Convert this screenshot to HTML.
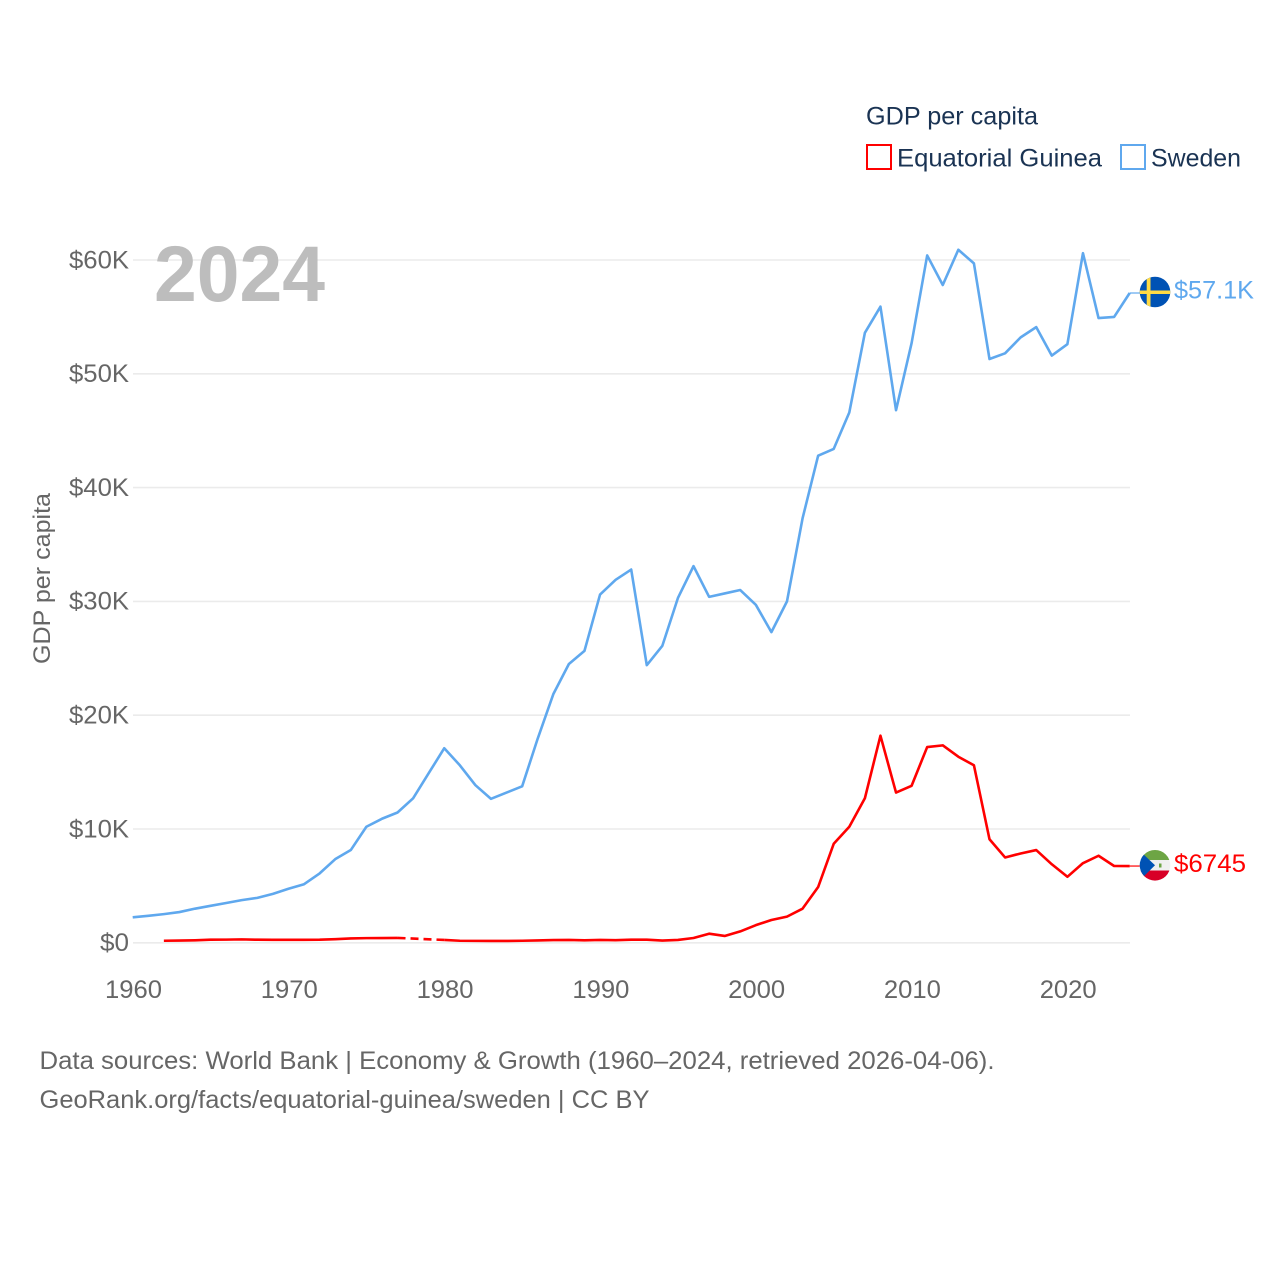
<!DOCTYPE html>
<html lang="en">
<head>
<meta charset="utf-8">
<title>GDP per capita: Equatorial Guinea and Sweden</title>
<style>
html,body{margin:0;padding:0;background:#fff;}
svg{display:block;font-family:"Liberation Sans",sans-serif;}
</style>
</head>
<body>
<svg id="chart" width="1280" height="1280" viewBox="0 0 1280 1280" xmlns="http://www.w3.org/2000/svg">
  <defs>
    <clipPath id="clip-se"><circle cx="1155" cy="292" r="15.3"/></clipPath>
    <clipPath id="clip-gq"><circle cx="1155" cy="865.3" r="15.3"/></clipPath>
  </defs>
  <g id="grid"></g>
  <text x="154" y="301" font-size="79" font-weight="700" fill="#bdbdbd" textLength="171" lengthAdjust="spacingAndGlyphs">2024</text>
  <g id="yticks"></g>
  <g id="xticks"></g>
  <text transform="translate(50,578.5) rotate(-90)" text-anchor="middle" font-size="24" fill="#666666" textLength="171" lengthAdjust="spacingAndGlyphs">GDP per capita</text>
  <g id="series"></g>

  <g clip-path="url(#clip-se)">
    <rect x="1139" y="276" width="32" height="32" fill="#0052b4"/>
    <rect x="1146.7" y="276" width="3.8" height="32" fill="#ffda44"/>
    <rect x="1139" y="290.5" width="32" height="3.5" fill="#ffda44"/>
  </g>
  <g clip-path="url(#clip-gq)">
    <rect x="1139" y="849" width="32" height="11" fill="#6da544"/>
    <rect x="1139" y="860" width="32" height="10.5" fill="#f0f0f0"/>
    <rect x="1139" y="870.5" width="32" height="11" fill="#d80027"/>
    <polygon points="1139,850 1155,865.3 1139,881" fill="#0052b4"/>
    <rect x="1159" y="863.5" width="2.5" height="4" fill="#6da544"/>
  </g>
  <text x="1174" y="298.5" font-size="25" fill="#5fa8ee" textLength="80" lengthAdjust="spacingAndGlyphs">$57.1K</text>
  <text x="1174" y="872" font-size="25" fill="#ff0000" textLength="72" lengthAdjust="spacingAndGlyphs">$6745</text>

  <g>
    <text x="866" y="124.5" font-size="25" fill="#1a3353" textLength="172" lengthAdjust="spacingAndGlyphs">GDP per capita</text>
    <g>
      <rect x="867" y="145" width="24" height="24" fill="none" stroke="#ff0000" stroke-width="2"/>
      <text x="897" y="166.5" font-size="25" fill="#1a3353" textLength="205" lengthAdjust="spacingAndGlyphs">Equatorial Guinea</text>
    </g>
    <g>
      <rect x="1121" y="145" width="24" height="24" fill="none" stroke="#5fa8ee" stroke-width="2"/>
      <text x="1151" y="166.5" font-size="25" fill="#1a3353" textLength="90" lengthAdjust="spacingAndGlyphs">Sweden</text>
    </g>
  </g>

  <text x="39.5" y="1069" font-size="25" fill="#666666" textLength="955" lengthAdjust="spacingAndGlyphs">Data sources: World Bank | Economy &amp; Growth (1960–2024, retrieved 2026-04-06).</text>
  <text x="39.5" y="1108" font-size="25" fill="#666666" textLength="610" lengthAdjust="spacingAndGlyphs">GeoRank.org/facts/equatorial-guinea/sweden | CC BY</text>
</svg>
<script>
// Years run 1960–2024; values are GDP per capita in thousands of US dollars.
const startYear = 1960;
const yTickValues = [0, 10, 20, 30, 40, 50, 60];
const yTickLabels = ['$0', '$10K', '$20K', '$30K', '$40K', '$50K', '$60K'];
const xTickValues = [1960, 1970, 1980, 1990, 2000, 2010, 2020];
const xTickLabels = ['1960', '1970', '1980', '1990', '2000', '2010', '2020'];
const swedenValues = [
  2.24, 2.37, 2.52, 2.7, 3.0, 3.25, 3.5, 3.75, 3.95, 4.3,
  4.75, 5.15, 6.1, 7.35, 8.15, 10.2, 10.9, 11.45, 12.7, 14.9,
  17.1, 15.6, 13.85, 12.65, 13.2, 13.75, 17.95, 21.85, 24.5, 25.65,
  30.6, 31.9, 32.8, 24.4, 26.1, 30.3, 33.1, 30.4, 30.7, 31.0,
  29.7, 27.3, 30.0, 37.3, 42.8, 43.4, 46.6, 53.6, 55.9, 46.8,
  52.7, 60.4, 57.8, 60.9, 59.7, 51.3, 51.8, 53.2, 54.1, 51.6,
  52.6, 60.6, 54.9, 55.0, 57.1
];
const guineaValues = [
  null, null, 0.18, 0.2, 0.22, 0.27, 0.28, 0.3, 0.27, 0.26,
  0.26, 0.26, 0.27, 0.32, 0.38, 0.41, 0.42, 0.43, null, null,
  0.25, 0.18, 0.17, 0.16, 0.16, 0.18, 0.21, 0.24, 0.25, 0.22,
  0.25, 0.23, 0.27, 0.27, 0.2, 0.25, 0.42, 0.8, 0.6, 1.0,
  1.55, 2.0, 2.3, 3.0, 4.9, 8.7, 10.2, 12.7, 18.2, 13.2,
  13.8, 17.2, 17.35, 16.35, 15.6, 9.1, 7.5, 7.85, 8.15, 6.9,
  5.8, 7.0, 7.65, 6.75, 6.745
];

const NS = 'http://www.w3.org/2000/svg';
const xOf = function (year) { return 132.7 + (year - 1960) * (997 / 64); };
const yOf = function (v) { return 942.8 - v * (682.8 / 60); };
const gridG = document.getElementById('grid');
const yG = document.getElementById('yticks');
const xG = document.getElementById('xticks');
const seriesG = document.getElementById('series');

yTickValues.forEach(function (v, i) {
  const line = document.createElementNS(NS, 'line');
  line.setAttribute('x1', 133);
  line.setAttribute('x2', 1130);
  line.setAttribute('y1', yOf(v));
  line.setAttribute('y2', yOf(v));
  line.setAttribute('stroke', '#ebebeb');
  line.setAttribute('stroke-width', 1.6);
  
  
  gridG.appendChild(line);

  const t = document.createElementNS(NS, 'text');
  t.textContent = yTickLabels[i];
  t.setAttribute('x', 129);
  t.setAttribute('y', yOf(v) + 8.3);
  t.setAttribute('text-anchor', 'end');
  t.setAttribute('font-size', 25);
  t.setAttribute('fill', '#666666');
  t.setAttribute('textLength', yTickLabels[i].length === 2 ? 29 : 60);
  t.setAttribute('lengthAdjust', 'spacingAndGlyphs');
  
  
  yG.appendChild(t);
});

xTickValues.forEach(function (year, i) {
  const t = document.createElementNS(NS, 'text');
  t.textContent = xTickLabels[i];
  t.setAttribute('x', xOf(year) + 0.8);
  t.setAttribute('y', 998);
  t.setAttribute('text-anchor', 'middle');
  t.setAttribute('font-size', 25);
  t.setAttribute('fill', '#666666');
  t.setAttribute('textLength', 57);
  t.setAttribute('lengthAdjust', 'spacingAndGlyphs');
  
  
  xG.appendChild(t);
});

function drawSeries(values, color, name) {
  const points = [];
  values.forEach(function (v, i) {
    if (v !== null) { points.push([xOf(startYear + i), yOf(v), i]); }
  });
  let solid = '';
  let dashed = '';
  points.forEach(function (p, k) {
    const gap = k > 0 && p[2] - points[k - 1][2] > 1;
    if (gap) {
      dashed += 'M' + points[k - 1][0] + ' ' + points[k - 1][1] + 'L' + p[0] + ' ' + p[1];
    }
    solid += (k === 0 || gap ? 'M' : 'L') + p[0] + ' ' + p[1];
  });

  const path = document.createElementNS(NS, 'path');
  path.setAttribute('d', solid);
  path.setAttribute('fill', 'none');
  path.setAttribute('stroke', color);
  path.setAttribute('stroke-width', 2.6);
  path.setAttribute('stroke-linejoin', 'round');
  
  
  seriesG.appendChild(path);

  if (dashed) {
    const dash = document.createElementNS(NS, 'path');
    dash.setAttribute('d', dashed);
    dash.setAttribute('fill', 'none');
    dash.setAttribute('stroke', color);
    dash.setAttribute('stroke-width', 2.6);
    dash.setAttribute('stroke-dasharray', '8 5');
    
    
    seriesG.appendChild(dash);
  }

  const last = points[points.length - 1];
  const connector = document.createElementNS(NS, 'line');
  connector.setAttribute('x1', last[0]);
  connector.setAttribute('x2', 1141);
  connector.setAttribute('y1', last[1]);
  connector.setAttribute('y2', last[1]);
  connector.setAttribute('stroke', color);
  connector.setAttribute('stroke-width', 1.2);
  
  
  seriesG.appendChild(connector);
}

drawSeries(swedenValues, '#5fa8ee', 'sweden');
drawSeries(guineaValues, '#ff0000', 'equatorial-guinea');
</script>
</body>
</html>
